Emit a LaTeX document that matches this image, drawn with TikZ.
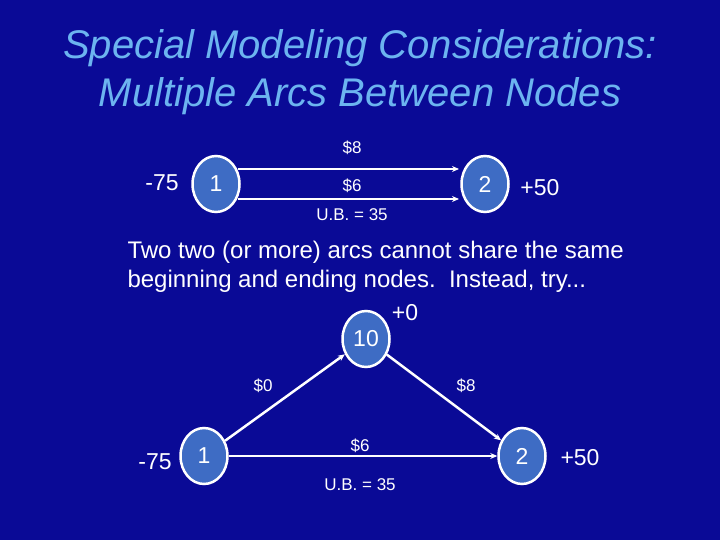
\documentclass[tikz,border=0pt]{standalone}
\usepackage{fontspec}
\setmainfont{Liberation Sans}
\usetikzlibrary{shapes.geometric,arrows.meta}
\definecolor{bg}{HTML}{0A0A96}
\definecolor{nodefill}{HTML}{3E6CC4}
\definecolor{titlec}{HTML}{6CB4F0}
\tikzset{
 nd/.style={ellipse,draw=white,line width=2.5pt,fill=nodefill,minimum width=47pt,minimum height=56pt,inner sep=0pt,text=white,font=\fontsize{23}{27}\selectfont},
 lbl/.style={text=white,font=\fontsize{17}{20}\selectfont},
 big/.style={text=white,font=\fontsize{23}{28}\selectfont},
 arc/.style={draw=white,line width=2.5pt,-{Stealth[length=7pt,width=6pt]}}
}
\begin{document}
\begin{tikzpicture}[x=1pt,y=-1pt]
\fill[bg] (0,0) rectangle (720,540);
\useasboundingbox (0,0) rectangle (720,540);
\node[text=titlec,font=\fontsize{40}{45}\selectfont\itshape] (t1) at (360,48) {Special Modeling Considerations:};
\node[text=titlec,font=\fontsize{40}{45}\selectfont\itshape] (t2) at (360,96) {Multiple Arcs Between Nodes};
% top
\node[nd] (a1) at (216,184) {1};
\node[nd] (a2) at (485,184) {2};
\draw[arc] (238,169) -- (459,169) coordinate (e1);
\draw[arc] (238,199) -- (459,199) coordinate (e2);
\node[lbl] (l8) at (352,148) {\$8};
\node[lbl] (l6) at (352,186) {\$6};
\node[lbl] (lub) at (352,215) {U.B. = 35};
\node[big] (m75) at (162,183) {-75};
\node[big] (p50) at (540,188) {+50};
% text
\node[text=white,font=\fontsize{24}{29}\selectfont,anchor=west,align=left] (txt) at (124,267) {Two two (or more) arcs cannot share the same\\beginning and ending nodes.\ \ Instead, try...};
% bottom
\node[nd] (b10) at (366,339) {10};
\node[nd] (b1) at (204,456) {1};
\node[nd] (b2) at (522,456) {2};
\draw[arc] (b1) -- (b10);
\draw[arc] (b10) -- (b2);
\draw[arc] (b1) -- (b2);
\node[big] (p0) at (405,313) {+0};
\node[lbl] (b0l) at (263,386) {\$0};
\node[lbl] (b8l) at (466,386) {\$8};
\node[lbl] (b6l) at (360,446) {\$6};
\node[lbl] (bub) at (360,485) {U.B. = 35};
\node[big] (bm75) at (155,462) {-75};
\node[big] (bp50) at (580,458) {+50};
\end{tikzpicture}
\end{document}
